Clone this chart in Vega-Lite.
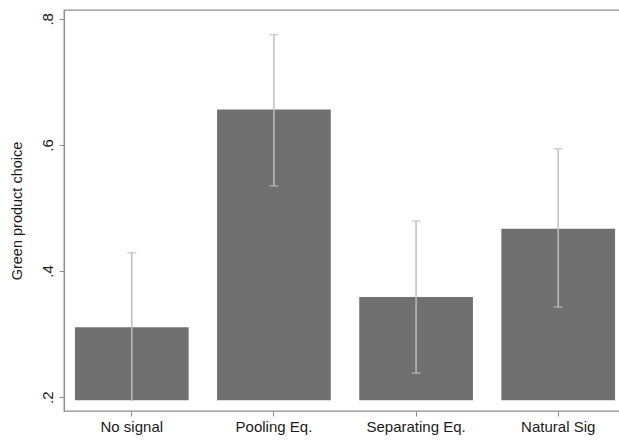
{
  "$schema": "https://vega.github.io/schema/vega-lite/v6.json",
  "width": 562,
  "height": 401,
  "autosize": {"type": "none"},
  "padding": {"left": 64, "top": 10, "right": 0, "bottom": 34},
  "background": "white",
  "config": {
    "font": "Liberation Sans",
    "view": {"stroke": "#8c8c8c", "strokeWidth": 1.3},
    "axis": {"grid": false, "domainColor": "#8c8c8c", "tickColor": "#8c8c8c", "labelColor": "#1a1a1a", "titleColor": "#1a1a1a", "labelFontSize": 15, "titleFontSize": 14.5, "titleFontWeight": "normal"}
  },
  "data": {
    "values": [
      {"group": "No signal", "mean": 0.311, "lo": 0.194, "hi": 0.429, "locap": null},
      {"group": "Pooling Eq.", "mean": 0.656, "lo": 0.535, "hi": 0.775, "locap": 0.535},
      {"group": "Separating Eq.", "mean": 0.359, "lo": 0.238, "hi": 0.479, "locap": 0.238},
      {"group": "Natural Sig", "mean": 0.467, "lo": 0.343, "hi": 0.594, "locap": 0.343}
    ]
  },
  "encoding": {
    "x": {
      "field": "group", "type": "nominal", "sort": null,
      "scale": {"paddingInner": 0.2, "paddingOuter": 0.077},
      "axis": {"title": null, "labelAngle": 0, "tickSize": 5, "labelPadding": 3, "domain": false, "offset": 0}
    }
  },
  "layer": [
    {
      "mark": {"type": "bar", "color": "#707070"},
      "encoding": {
        "y": {
          "field": "mean", "type": "quantitative",
          "scale": {"domain": [0.178, 0.814], "nice": false, "zero": false},
          "axis": {"title": "Green product choice", "values": [0.2, 0.4, 0.6, 0.8], "labelExpr": "replace(format(datum.value, '.1f'), '0.', '.')", "labelAngle": -90, "labelAlign": "center", "labelBaseline": "bottom", "labelPadding": 4, "tickSize": 5, "titlePadding": 16}
        },
        "y2": {"datum": 0.195}
      }
    },
    {
      "mark": {"type": "rule", "color": "#bdbdbd", "strokeWidth": 1.5},
      "encoding": {
        "y": {"field": "lo", "type": "quantitative"},
        "y2": {"field": "hi"}
      }
    },
    {
      "mark": {"type": "tick", "color": "#bdbdbd", "size": 9, "thickness": 1.5, "orient": "horizontal"},
      "encoding": {"y": {"field": "hi", "type": "quantitative"}}
    },
    {
      "mark": {"type": "tick", "color": "#bdbdbd", "size": 9, "thickness": 1.5, "orient": "horizontal"},
      "encoding": {"y": {"field": "locap", "type": "quantitative"}}
    }
  ]
}
